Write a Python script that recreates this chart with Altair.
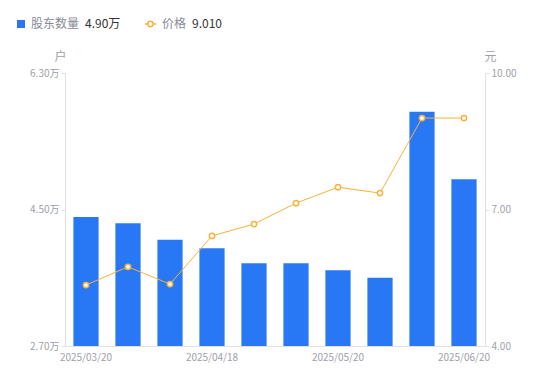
import altair as alt
import pandas as pd

dates = ["2025/03/20", "2025/03/31", "2025/04/10", "2025/04/18", "2025/04/30",
         "2025/05/09", "2025/05/20", "2025/05/30", "2025/06/10", "2025/06/20"]
holders = [4.40, 4.32, 4.10, 3.99, 3.79, 3.79, 3.70, 3.60, 5.79, 4.90]  # 万户
price = [5.34, 5.74, 5.36, 6.42, 6.68, 7.14, 7.49, 7.36, 9.01, 9.01]
shown_dates = ["2025/03/20", "2025/04/18", "2025/05/20", "2025/06/20"]

df = pd.DataFrame({"date": dates, "holders": holders, "price": price})

FONT = "Noto Sans CJK SC"
BLUE = "#2878F5"
ORANGE = "#F7B23B"
LABEL = "#A0A0AA"

x = alt.X("date:O", sort=dates,
          scale=alt.Scale(paddingInner=0.4, paddingOuter=0.2),
          axis=alt.Axis(title=None, labelAngle=0, values=shown_dates, labelColor=LABEL,
                        labelFontSize=10, labelFont=FONT, domainColor="#E0E0E6",
                        ticks=False, labelPadding=6, grid=False, orient="bottom"))

bars = alt.Chart(df).mark_bar(color=BLUE, clip=True).encode(
    x=x,
    y=alt.Y("holders:Q", scale=alt.Scale(domain=[2.7, 6.3], nice=False, zero=False),
            axis=alt.Axis(values=[2.7, 4.5, 6.3], labelExpr="format(datum.value, '.2f') + '万'",
                          title="户", titleAngle=0, titleX=-5, titleY=-10, titleAlign="center",
                          titleColor=LABEL, titleFontWeight="normal", titleFontSize=12, titleFont=FONT,
                          labelColor=LABEL, labelFontSize=10, labelFont=FONT, grid=False,
                          domainColor="#E0E0E6", tickColor="#E0E0E6", tickSize=4, labelPadding=2))
)

line_base = alt.Chart(df).encode(
    x=x,
    y=alt.Y("price:Q", scale=alt.Scale(domain=[4, 10], nice=False, zero=False),
            axis=alt.Axis(orient="right", values=[4, 7, 10], format=".2f",
                          title="元", titleAngle=0, titleX=5, titleY=-10, titleAlign="center",
                          titleColor=LABEL, titleFontWeight="normal", titleFontSize=12, titleFont=FONT,
                          labelColor=LABEL, labelFontSize=10, labelFont=FONT, grid=False,
                          domainColor="#E0E0E6", tickColor="#E0E0E6", tickSize=4, labelPadding=2))
)
line = line_base.mark_line(color=ORANGE, strokeWidth=1)
pts = line_base.mark_point(shape="circle", filled=True, fill="white", stroke=ORANGE,
                           strokeWidth=1.5, size=28, opacity=1)

leg_df = pd.DataFrame({"k": [0]})
leg = alt.Chart(leg_df)
sq = leg.mark_square(color=BLUE, size=64, opacity=1).encode(x=alt.value(-44), y=alt.value(-49))
t1 = leg.mark_text(text="股东数量", align="left", baseline="middle", font=FONT, fontSize=12,
                   color="#8A8A96").encode(x=alt.value(-34), y=alt.value(-49))
t2 = leg.mark_text(text=f"{holders[-1]:.2f}万", align="left", baseline="middle", font=FONT,
                   fontSize=12, color="#333333").encode(x=alt.value(20), y=alt.value(-49))
lr = leg.mark_rule(color=ORANGE, strokeWidth=1.5).encode(x=alt.value(80), x2=alt.value(91),
                                                          y=alt.value(-49))
lc = leg.mark_point(shape="circle", filled=True, fill="white", stroke=ORANGE, strokeWidth=1.5,
                    size=28, opacity=1).encode(x=alt.value(85.5), y=alt.value(-49))
t3 = leg.mark_text(text="价格", align="left", baseline="middle", font=FONT, fontSize=12,
                   color="#8A8A96").encode(x=alt.value(97), y=alt.value(-49))
t4 = leg.mark_text(text=f"{price[-1]:.3f}", align="left", baseline="middle", font=FONT,
                   fontSize=12, color="#333333").encode(x=alt.value(127), y=alt.value(-49))

price_layer = alt.layer(line, pts, sq, t1, t2, lr, lc, t3, t4)

chart = alt.layer(bars, price_layer).resolve_scale(y="independent").properties(
    width=420, height=273,
    autosize=alt.AutoSizeParams(type="none"),
    padding={"left": 57, "top": 65, "right": 57, "bottom": 27},
).configure(font=FONT).configure_view(stroke="transparent", strokeWidth=0).configure_axis(grid=False)

chart.save("out.html", embed_options={"renderer": "svg", "actions": False})
